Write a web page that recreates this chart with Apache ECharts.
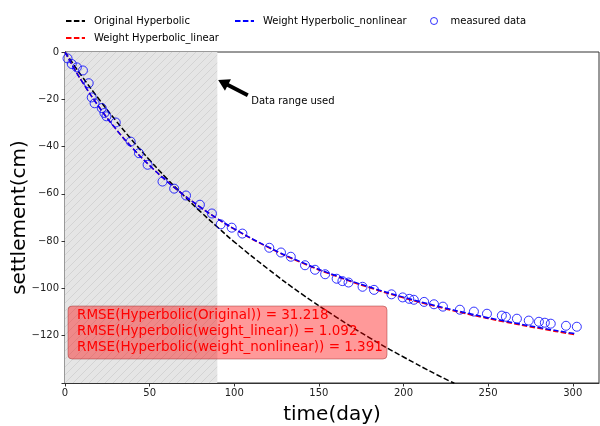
<!DOCTYPE html>
<html><head><meta charset="utf-8">
<script src="https://cdn.jsdelivr.net/npm/echarts@6/dist/echarts.min.js"></script>
<style>html,body{margin:0;padding:0;background:#fff}#c{width:600px;height:426px}</style>
</head><body><div id="c"></div>
<script>
// measured data
const measuredDays = [1.5,4,7,10.6,14,15.8,17.5,21.7,23.3,24.5,30,38.8,43.7,48.8,57.6,64.5,71.5,79.7,86.8,92,98.5,104.8,120.7,127.6,133.4,141.8,147.7,153.7,160.5,163.9,167.5,175.8,182.6,192.9,199.5,203.4,206.1,212.2,218,223.3,233.3,241.6,249.3,258.1,260.5,267,274,280,283.5,287,296,302.4];
const measuredSettlement = [-2.7,-5.1,-6.5,-7.8,-13.2,-19.2,-21.7,-23.7,-25.8,-27.2,-29.8,-37.9,-42.8,-47.7,-54.8,-57.8,-60.7,-64.6,-68.3,-72.9,-74.3,-76.8,-82.8,-84.8,-86.6,-90.2,-92.1,-94.0,-95.9,-96.9,-97.5,-99.3,-100.6,-102.5,-103.8,-104.4,-104.8,-105.7,-106.7,-107.7,-109,-109.8,-110.7,-111.5,-112,-112.8,-113.6,-114.1,-114.5,-114.9,-115.8,-116.2];
// fitted curves
const originalDays = [0,5,10,20,30,40,50,60,70,80,90,100,120,140,160,180,200,220,230];
const originalHyperbolic = [0,-5.2,-10.3,-19.9,-29.0,-37.6,-45.7,-53.4,-60.6,-67.5,-74.0,-80.3,-91.8,-102.4,-112.0,-120.9,-129.0,-136.6,-140.1];
const weightDays = [0,5,10,20,30,40,50,60,70,80,90,100,120,140,160,180,200,220,240,260,280,300,302];
const weightLinear = [0,-6.4,-12.4,-23.1,-32.5,-40.7,-48.0,-54.5,-60.4,-65.7,-70.5,-74.9,-82.6,-89.2,-94.8,-99.7,-104.0,-107.8,-111.2,-114.2,-116.9,-119.4,-119.6];
const weightNonlinear = [0,-6.45,-12.43,-23.16,-32.52,-40.74,-48.03,-54.54,-60.38,-65.65,-70.43,-74.79,-82.45,-88.96,-94.55,-99.41,-103.68,-107.45,-110.81,-113.83,-116.54,-119.0,-119.2];
const dataRangeUsed = [0, 90];
const seriesNames = ['Original Hyperbolic','Weight Hyperbolic_linear','Weight Hyperbolic_nonlinear','measured data'];
const rmseLines = ['RMSE(Hyperbolic(Original)) = 31.218','RMSE(Hyperbolic(weight_linear)) = 1.092','RMSE(Hyperbolic(weight_nonlinear)) = 1.391'];
const annotationText = 'Data range used';
const arrowTip = [90.5, -11.8];
const arrowTail = [108, -18.3];
const annotationTextPos = [110, -20.7];

const FONT = 'DejaVu Sans';
const zip = (a, b) => a.map((v, i) => [v, b[i]]);

// hatch pattern
const pc = document.createElement('canvas');
pc.width = 8; pc.height = 8;
const g = pc.getContext('2d');
g.fillStyle = '#e5e5e5'; g.fillRect(0,0,8,8);
g.strokeStyle = '#d3d3d3'; g.lineWidth = 1;
g.beginPath();
g.moveTo(-1,9); g.lineTo(9,-1);
g.moveTo(-1,1); g.lineTo(1,-1);
g.moveTo(7,9); g.lineTo(9,7);
g.stroke();

const chart = echarts.init(document.getElementById('c'), null, {renderer:'canvas'});
const dash = [5.5, 2.4];
const legendText = {fontSize:10, fontFamily:FONT, color:'#000', padding:[0,0,0,4]};
const hiddenSym = {color:'transparent', borderColor:'transparent', borderWidth:0};
const option = {
  animation:false,
  backgroundColor:'#fff',
  grid:{left:65, right:1, top:52, bottom:43, show:true, borderColor:'#333', borderWidth:1, backgroundColor:'transparent', containLabel:false, outerBoundsMode:'none'},
  legend:[
    {data:[seriesNames[0]], left:60, top:11, itemWidth:19, itemHeight:10, itemStyle:hiddenSym, textStyle:legendText},
    {data:[seriesNames[1]], left:60, top:28, itemWidth:19, itemHeight:10, itemStyle:hiddenSym, textStyle:legendText},
    {data:[seriesNames[2]], left:229, top:11, itemWidth:19, itemHeight:10, itemStyle:hiddenSym, textStyle:legendText},
    {data:[{name:seriesNames[3], icon:'circle', itemStyle:{color:'transparent', borderColor:'#0000ff', borderWidth:1}}], left:425, top:11, itemWidth:7, itemHeight:7, textStyle:Object.assign({}, legendText, {padding:[0,0,0,8]})}
  ],
  xAxis:{type:'value', min:0, max:315.5, interval:50,
    name:'time(day)', nameLocation:'middle', nameGap:22, nameMoveOverlap:false, nameTextStyle:{fontSize:20, fontFamily:FONT, color:'#000'},
    axisLine:{show:true, onZero:false, lineStyle:{color:'#333', width:1}},
    axisTick:{show:true, inside:false, length:3.5, lineStyle:{color:'#333'}},
    axisLabel:{show:true, margin:5, fontSize:10, fontFamily:FONT, color:'#222', showMaxLabel:false},
    splitLine:{show:false}},
  yAxis:{type:'value', min:-140, max:0, interval:20,
    name:'settlement(cm)', nameLocation:'middle', nameGap:35, nameMoveOverlap:false, nameRotate:90, nameTextStyle:{fontSize:20, fontFamily:FONT, color:'#000'},
    axisLine:{show:true, onZero:false, lineStyle:{color:'#333', width:1}},
    axisTick:{show:true, inside:false, length:3.5, lineStyle:{color:'#333'}},
    axisLabel:{show:true, margin:6, fontSize:10, fontFamily:FONT, color:'#222',
      formatter:v => v === -140 ? '' : String(v).replace('-', '\u2212')},
    splitLine:{show:false}},
  series:[
    {name:seriesNames[0], type:'line', data:zip(originalDays, originalHyperbolic), symbol:'none', smooth:true, clip:true,
      lineStyle:{color:'#000', width:1.5, type:dash}, itemStyle:{color:'#000'},
      markArea:{silent:true, itemStyle:{color:{image:pc, repeat:'repeat'}}, data:[[{xAxis:dataRangeUsed[0]},{xAxis:dataRangeUsed[1]}]]}, z:2},
    {name:seriesNames[1], type:'line', data:zip(weightDays, weightLinear), symbol:'none', smooth:true,
      lineStyle:{color:'#ff0000', width:1.5, type:dash}, itemStyle:{color:'#ff0000'}, z:3},
    {name:seriesNames[2], type:'line', data:zip(weightDays, weightNonlinear), symbol:'none', smooth:true,
      lineStyle:{color:'#0000ff', width:1.5, type:dash}, itemStyle:{color:'#0000ff'}, z:4},
    {name:seriesNames[3], type:'scatter', data:zip(measuredDays, measuredSettlement), symbol:'circle', symbolSize:9,
      itemStyle:{color:'transparent', borderColor:'#0000ff', borderWidth:1}, z:5}
  ]
};
chart.setOption(option);

const P = p => chart.convertToPixel({gridIndex:0}, p);
const T = P(arrowTip), S = P(arrowTail), TP = P(annotationTextPos);
const dx = T[0]-S[0], dy = T[1]-S[1], L = Math.hypot(dx, dy);
const ux = dx/L, uy = dy/L, nx = -uy, ny = ux;
const hl = 11, hw = 6.5, sw = 2;
const B = [T[0]-ux*hl, T[1]-uy*hl];
const arrowPts = [
  [S[0]+nx*sw, S[1]+ny*sw],[B[0]+nx*sw, B[1]+ny*sw],[B[0]+nx*hw, B[1]+ny*hw],T,
  [B[0]-nx*hw, B[1]-ny*hw],[B[0]-nx*sw, B[1]-ny*sw],[S[0]-nx*sw, S[1]-ny*sw]];

const graphics = [
  {type:'polygon', shape:{points:arrowPts}, style:{fill:'#000'}, z:100},
  {type:'text', x:TP[0], y:TP[1], style:{text:annotationText, font:'10px "DejaVu Sans"', fill:'#000', textVerticalAlign:'middle', textAlign:'left'}, z:100},
  {type:'rect', shape:{x:68, y:306, width:319, height:53, r:4}, style:{fill:'rgba(255,0,0,0.4)', stroke:'rgba(150,40,40,0.45)', lineWidth:1}, z:100}
];
rmseLines.forEach((t, i) => graphics.push({type:'text', x:77, y:315 + i*16, style:{text:t, font:'13.5px "DejaVu Sans"', fill:'#ff0000', textVerticalAlign:'middle', textAlign:'left'}, z:101}));
chart.setOption({graphic:graphics});
</script>
</body></html>
